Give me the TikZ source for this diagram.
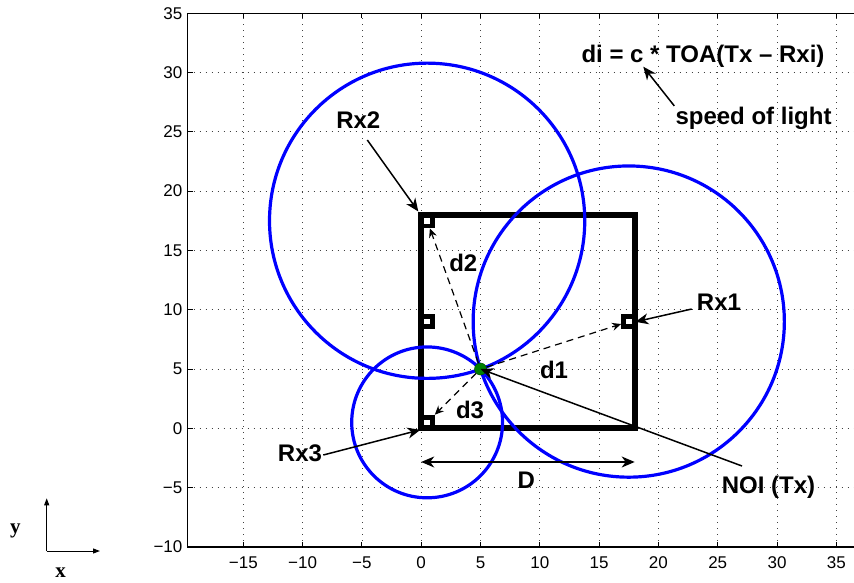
\documentclass[tikz,border=0pt]{standalone}
\usepackage{fontspec}
\setmainfont{Liberation Sans}
\newfontfamily\serifbf{Liberation Serif}
\usetikzlibrary{arrows.meta,calc}
\begin{document}
\begin{tikzpicture}[x=1pt,y=-1pt,
  lbl/.style={font=\fontsize{24}{28}\selectfont\bfseries, anchor=base, inner sep=1pt},
  ticklbl/.style={font=\fontsize{17}{20}\selectfont, inner sep=0pt},
  axlbl/.style={font=\fontsize{21}{24}\selectfont\serifbf\bfseries, anchor=base, inner sep=0pt},
  gridline/.style={line width=0.7pt, black!75, dash pattern=on 0.8pt off 5.2pt},
  tickmark/.style={line width=1pt, black},
  circ/.style={draw=blue, line width=3.2pt},
  rxmark/.style={rectangle, draw=black, fill=white, line width=4.8pt, minimum size=10.5pt, inner sep=0pt},
  annarrow/.style={line width=1.5pt, -{Stealth[length=13pt,width=11pt,inset=4pt]}},
  darrow/.style={line width=1.4pt, {Stealth[length=13pt,width=11pt,inset=4pt]}-{Stealth[length=13pt,width=11pt,inset=4pt]}},
  dasharrow/.style={line width=1.2pt, dash pattern=on 7pt off 5pt, -{Stealth[length=9pt,width=8pt,inset=3pt]}},
  smallarrow/.style={line width=1pt, -{Triangle[length=7pt,width=5pt]}}
]
\useasboundingbox (0,0) rectangle (854,582);
\fill[white] (0,0) rectangle (854,582);

\begin{scope}[shift={(421.2,428.3)}, x=11.86pt, y=11.86pt]
  % grid
  \foreach \gx in {-15,-10,...,35} \draw[gridline] (\gx,-10) -- (\gx,35);
  \foreach \gy in {-5,0,...,30} \draw[gridline] (-19.7,\gy) -- (36.6,\gy);
  % ticks
  \foreach \gx in {-15,-10,...,35} {
    \draw[tickmark] (\gx,-10) -- (\gx,-9.58);
    \draw[tickmark] (\gx,35) -- (\gx,34.58);
  }
  \foreach \gy in {-5,0,...,30} \draw[tickmark] (-19.7,\gy) -- (-19.28,\gy);
  % axes box
  \draw[line width=1.3pt] (36.6,35) -- (-19.7,35) -- (-19.7,-10) -- (36.6,-10);
  % tick labels
  \foreach \gx/\t in {-15/−15,-10/−10,-5/−5,0/0,5/5,10/10,15/15,20/20,25/25,30/30,35/35}
    \node[ticklbl, anchor=base] at (\gx,-11.78) {\t};
  \foreach \gy/\t in {-10/−10,-5/−5,0/0,5/5,10/10,15/15,20/20,25/25,30/30,35/35}
    \node[ticklbl, anchor=east, xshift=-5pt] at (-19.7,\gy) {\t};

  % region square
  \draw[line width=6pt] (0,0) rectangle (18,18);
  % range circles
  \draw[circ] (17.5,9) circle[radius=13.12];
  \draw[circ] (0.5,17.5) circle[radius=13.29];
  \draw[circ] (0.5,0.5) circle[radius=6.36];
  % receivers
  \node[rxmark] (rx1) at (17.5,9) {};
  \node[rxmark] (rx2) at (0.5,17.5) {};
  \node[rxmark] (rx3) at (0.5,0.5) {};
  \node[rxmark] (rxm) at (0.5,9) {};
  % node of interest
  \node[circle, fill=green!50!black, draw=green!30!black, line width=0.5pt, minimum size=12pt, inner sep=0pt] (noi) at (5,5) {};
  % distances
  \draw[dasharrow] (noi) -- (rx1);
  \draw[dasharrow] (noi) -- (rx2);
  \draw[dasharrow] (noi) -- (rx3);
  % D
  \coordinate (dl) at (0,-2.84);
  \coordinate (dr) at (18,-2.84);
  \draw[darrow] (dl) -- (dr);
\end{scope}

% labels
\node[lbl] (dilab) at (703,62) {di = c * TOA(Tx – Rxi)};
\node[lbl] (sollab) at (753.5,124.5) {speed of light};
\coordinate (ctip) at (643.3,66.7);
\draw[annarrow] (sollab.north west) -- (ctip);

\node[lbl] (rx2lab) at (358.3,128.3) {Rx2};
\coordinate (rx2tail) at (367.3,140);
\draw[annarrow, shorten >=2pt] (rx2tail) -- (rx2.north west);

\node[lbl] (rx1lab) at (719,310) {Rx1};
\coordinate (rx1tail) at (691.7,309);
\draw[annarrow, shorten >=-1pt] (rx1tail) -- (rx1.east);

\node[lbl] (rx3lab) at (300,461.7) {Rx3};
\coordinate (rx3tail) at (323.3,455);
\draw[annarrow, shorten >=-1pt] (rx3tail) -- (rx3.south west);

\node[lbl] (noilab) at (768.5,493.3) {NOI (Tx)};
\coordinate (noitail) at (742,466);
\draw[annarrow] (noitail) -- (noi.center);

\node[lbl] (d1lab) at (554,378.3) {d1};
\node[lbl] (d2lab) at (463.3,271.7) {d2};
\node[lbl] (d3lab) at (470,418.3) {d3};
\node[lbl] (dlab) at (526.2,488.3) {D};

% axis indicator
\coordinate (ax0) at (46.7,551);
\coordinate (axy) at (46.7,498.3);
\coordinate (axx) at (100,551);
\draw[smallarrow] (ax0) -- (axy);
\draw[smallarrow] (ax0) -- (axx);
\node[axlbl] (ylab) at (15.3,533.7) {y};
\node[axlbl] (xlab) at (60.5,577.5) {x};
\end{tikzpicture}
\end{document}
